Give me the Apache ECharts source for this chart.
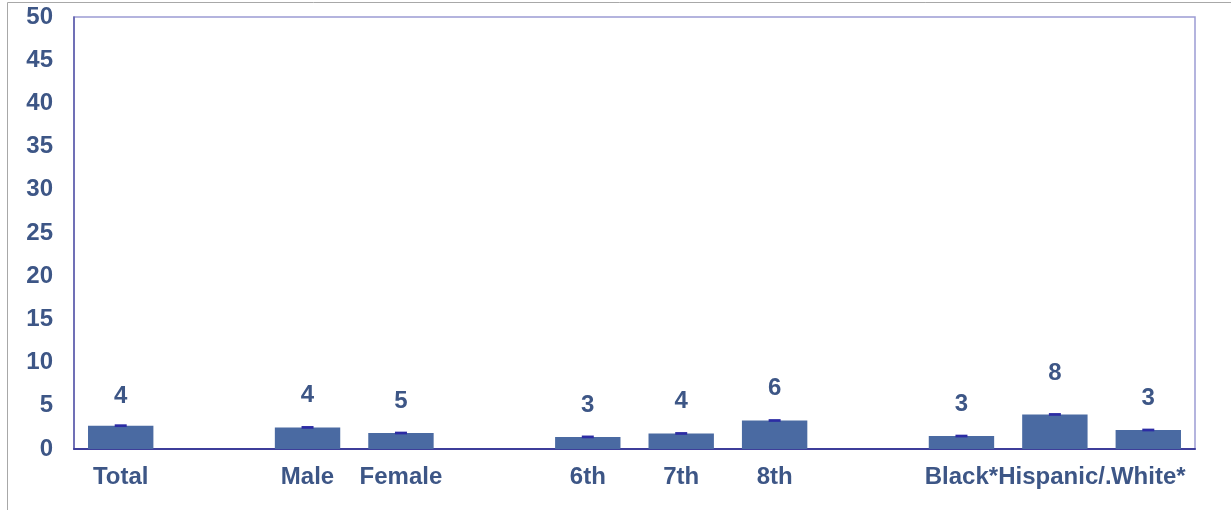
<!DOCTYPE html>
<html>
<head>
<meta charset="utf-8">
<script src="https://cdn.jsdelivr.net/npm/echarts@6/dist/echarts.min.js"></script>
<style>
  html, body { margin: 0; padding: 0; background: #fff; }
  #chart { width: 1231px; height: 510px; }
</style>
</head>
<body>
<div id="chart"></div>
<script>
// Groups separated by empty slots: overall, sex, grade, race/ethnicity
const categories = ['Total', '', 'Male', 'Female', '', '6th', '7th', '8th', '', 'Black*', 'Hispanic/Latino*', 'White*'];
// Bar heights (percent)
const barValues = [2.7, null, 2.5, 1.85, null, 1.4, 1.8, 3.3, null, 1.5, 4.0, 2.2];
// Confidence interval bounds drawn as short whiskers on each bar
const errLow  = [2.6, null, 2.4, 1.75, null, 1.3, 1.7, 3.2, null, 1.4, 3.9, 2.1];
const errHigh = [2.8, null, 2.6, 1.95, null, 1.5, 1.9, 3.4, null, 1.6, 4.1, 2.3];
// Numbers printed above each bar
const labelValues = [4, null, 4, 5, null, 3, 4, 6, null, 3, 8, 3];
// Value axis
const yMin = 0, yMax = 50, yStep = 5;

const textColor = '#3d5686';
const fontFamily = '"Liberation Sans", Arial, sans-serif';
const fontSize = 24;
const labelGap = { 0: 17, 10: 29 };

const chart = echarts.init(document.getElementById('chart'), null, { renderer: 'canvas' });

const barData = barValues.map((v, i) => {
  if (v == null) return '-';
  return {
    value: v,
    label: {
      show: true,
      position: 'top',
      distance: labelGap[i] != null ? labelGap[i] : 20,
      formatter: () => String(labelValues[i]),
      color: textColor,
      fontSize: fontSize,
      fontWeight: 'bold',
      fontFamily: fontFamily
    }
  };
});

const errData = errLow.map((lo, i) => lo == null ? null : [i, lo, errHigh[i]]).filter(d => d);

chart.setOption({
  animation: false,
  backgroundColor: '#ffffff',
  graphic: [{
    type: 'rect',
    silent: true,
    shape: { x: 7.5, y: 2.5, width: 1240, height: 530 },
    style: { fill: 'none', stroke: '#a8a8a8', lineWidth: 1 }
  }],
  grid: {
    left: 74, top: 17, right: 36, bottom: 61,
    show: true,
    borderColor: '#9c9cd4',
    borderWidth: 1.5,
    backgroundColor: 'transparent'
  },
  xAxis: {
    type: 'category',
    data: categories,
    axisLine: { show: true, lineStyle: { color: '#3e3e9a', width: 2 } },
    axisTick: { show: false },
    axisLabel: {
      interval: 0,
      margin: 16,
      color: textColor,
      fontSize: fontSize,
      fontWeight: 'bold',
      fontFamily: fontFamily,
      width: 119,
      overflow: 'truncate',
      ellipsis: '.'
    },
    splitLine: { show: false }
  },
  yAxis: {
    type: 'value',
    min: yMin,
    max: yMax,
    interval: yStep,
    axisLine: { show: true, lineStyle: { color: '#5a5aa8', width: 1.5 } },
    axisTick: { show: false },
    axisLabel: {
      margin: 21,
      color: textColor,
      fontSize: fontSize,
      fontWeight: 'bold',
      fontFamily: fontFamily
    },
    splitLine: { show: false }
  },
  series: [
    {
      type: 'bar',
      data: barData,
      barCategoryGap: '30%',
      itemStyle: { color: '#4a6aa2' },
      z: 2
    },
    {
      type: 'custom',
      data: errData,
      z: 5,
      renderItem: function (params, api) {
        const x = api.coord([api.value(0), 0])[0];
        const top = api.coord([api.value(0), api.value(2)])[1];
        const bot = api.coord([api.value(0), api.value(1)])[1];
        const half = 6;
        return {
          type: 'rect',
          shape: { x: x - half, y: top - 0.5, width: half * 2, height: bot - top + 1 },
          style: { fill: '#2c2ca4' }
        };
      }
    }
  ]
});
</script>
</body>
</html>
